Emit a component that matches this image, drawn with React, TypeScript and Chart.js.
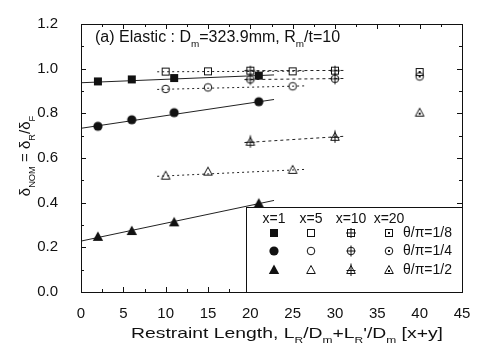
import React, { useEffect, useRef } from "react";
import { Chart, registerables } from "chart.js";
Chart.register(...registerables);

const FONT = '"Liberation Sans", Arial, Helvetica, sans-serif';

// axis ticks
const xTickValues = [0, 5, 10, 15, 20, 25, 30, 35, 40, 45];
const yTickValues = [0, 0.2, 0.4, 0.6, 0.8, 1.0, 1.2];

// x = 1 (filled symbols), restraint length x+y
const x1Lengths = [2, 6, 11, 21];
const x1Square = [0.943, 0.952, 0.958, 0.969];
const x1Circle = [0.742, 0.771, 0.803, 0.852];
const x1Triangle = [0.247, 0.273, 0.312, 0.396];

// x = 5 (open symbols)
const x5Lengths = [10, 15, 25];
const x5Square = [0.987, 0.988, 0.988];
const x5Circle = [0.909, 0.916, 0.921];
const x5Triangle = [0.521, 0.539, 0.547];

// x = 10 (crossed symbols)
const x10Lengths = [20, 30];
const x10Square = [0.991, 0.991];
const x10Circle = [0.952, 0.955];
const x10Triangle = [0.673, 0.695];

// x = 20 (dotted symbols)
const x20Lengths = [40];
const x20Square = [0.985];
const x20Circle = [0.965];
const x20Triangle = [0.803];

// trend lines: [start, end]
const fitX1Range = [0, 22.8];
const fitX1Square = [0.937, 0.972];
const fitX1Circle = [0.733, 0.862];
const fitX1Triangle = [0.228, 0.41];
const fitX5Range = [9, 26.5];
const fitX5Square = [0.986, 0.989];
const fitX5Circle = [0.907, 0.923];
const fitX5Triangle = [0.518, 0.549];
const fitX10Range = [19.3, 31];
const fitX10Square = [0.991, 0.992];
const fitX10Circle = [0.951, 0.956];
const fitX10Triangle = [0.669, 0.697];

const legendHeaders = ["x=1", "x=5", "x=10", "x=20"];
const legendRows = ["θ/π=1/8", "θ/π=1/4", "θ/π=1/2"];

type Shape = "square" | "circle" | "triangle";
type Kind = "filled" | "open" | "cross" | "dot";

function makeMarker(shape: Shape, kind: Kind): HTMLCanvasElement {
  const c = document.createElement("canvas");
  c.width = 16;
  c.height = 16;
  const g = c.getContext("2d")!;
  g.strokeStyle = "#111";
  g.fillStyle = "#111";
  g.lineWidth = 1;
  const m = 8;
  const line = (x1: number, y1: number, x2: number, y2: number) => {
    g.beginPath();
    g.moveTo(x1, y1);
    g.lineTo(x2, y2);
    g.stroke();
  };
  if (shape === "square") {
    if (kind === "filled") {
      g.fillRect(4, 4, 8, 8);
    } else {
      g.strokeRect(4.5, 4.5, 7, 7);
      if (kind === "cross") {
        line(8, 3, 8, 13);
        line(3, 8, 13, 8);
      }
      if (kind === "dot") g.fillRect(7, 7, 2, 2);
    }
  } else if (shape === "circle") {
    g.beginPath();
    if (kind === "filled") {
      g.arc(m, m, 4.6, 0, Math.PI * 2);
      g.fill();
    } else {
      g.arc(m, m, 3.8, 0, Math.PI * 2);
      g.stroke();
      if (kind === "cross") {
        line(8, 2.5, 8, 13.5);
        line(3.5, 8, 12.5, 8);
      }
      if (kind === "dot") g.fillRect(7, 7, 2, 2);
    }
  } else {
    if (kind === "filled") {
      g.beginPath();
      g.moveTo(8, 2.5);
      g.lineTo(13.2, 12);
      g.lineTo(2.8, 12);
      g.closePath();
      g.fill();
    } else {
      g.beginPath();
      g.moveTo(8, 3.5);
      g.lineTo(12.3, 11.5);
      g.lineTo(3.7, 11.5);
      g.closePath();
      g.stroke();
      if (kind === "cross") {
        line(8, 1.5, 8, 14);
        line(3.5, 8.5, 12.5, 8.5);
      }
      if (kind === "dot") g.fillRect(7, 8, 2, 2);
    }
  }
  return c;
}

type Part = { t: string; sub?: boolean };

function partFont(size: number, sub?: boolean) {
  return `${sub ? size * 0.62 : size}px ${FONT}`;
}
function richWidth(ctx: CanvasRenderingContext2D, parts: Part[], size: number) {
  let w = 0;
  for (const p of parts) {
    ctx.font = partFont(size, p.sub);
    w += ctx.measureText(p.t).width;
  }
  return w;
}
function drawRich(
  ctx: CanvasRenderingContext2D,
  parts: Part[],
  x: number,
  y: number,
  size: number,
  align: "left" | "center",
  targetWidth?: number
) {
  const w = richWidth(ctx, parts, size);
  const sx = targetWidth ? targetWidth / w : 1;
  ctx.save();
  ctx.translate(x, y);
  ctx.scale(sx, 1);
  let cx = align === "center" ? -w / 2 : 0;
  ctx.textAlign = "left";
  ctx.textBaseline = "alphabetic";
  for (const p of parts) {
    ctx.font = partFont(size, p.sub);
    ctx.fillText(p.t, cx, p.sub ? size * 0.3 : 0);
    cx += ctx.measureText(p.t).width;
  }
  ctx.restore();
}

const titleParts: Part[] = [
  { t: "(a) Elastic : D" },
  { t: "m", sub: true },
  { t: "=323.9mm, R" },
  { t: "m", sub: true },
  { t: "/t=10" },
];
const xTitleParts: Part[] = [
  { t: "Restraint Length, L" },
  { t: "R", sub: true },
  { t: "/D" },
  { t: "m", sub: true },
  { t: "+L" },
  { t: "R", sub: true },
  { t: "'/D" },
  { t: "m", sub: true },
  { t: " [x+y]" },
];
const yTitleParts: Part[] = [
  { t: "δ" },
  { t: "NOM", sub: true },
  { t: " = δ" },
  { t: "R", sub: true },
  { t: "/δ" },
  { t: "F", sub: true },
];

export default function App() {
  const ref = useRef<HTMLCanvasElement | null>(null);
  useEffect(() => {
    if (!ref.current) return;
    const shapes: Shape[] = ["square", "circle", "triangle"];
    const kinds: Kind[] = ["filled", "open", "cross", "dot"];
    const markers: Record<string, HTMLCanvasElement> = {};
    for (const s of shapes) for (const k of kinds) markers[s + k] = makeMarker(s, k);

    const pts = (xs: number[], ys: number[]) => xs.map((x, i) => ({ x, y: ys[i] }));

    const fit = (range: number[], ys: number[], dash: number[]) => ({
      type: "line" as const,
      data: pts(range, ys),
      borderColor: "#222",
      borderWidth: 1,
      borderDash: dash,
      pointRadius: 0,
      showLine: true,
      fill: false,
      order: 2,
    });
    const scatter = (xs: number[], ys: number[], marker: HTMLCanvasElement) => ({
      type: "scatter" as const,
      data: pts(xs, ys),
      pointStyle: marker,
      pointRadius: 6,
      showLine: false,
      order: 1,
    });

    const framePlugin = {
      id: "frameAndText",
      afterDraw(chart: any) {
        const ctx: CanvasRenderingContext2D = chart.ctx;
        const a = chart.chartArea;
        const xs = chart.scales.x;
        const ys = chart.scales.y;
        ctx.save();
        ctx.strokeStyle = "#111";
        ctx.lineWidth = 1;
        ctx.strokeRect(Math.round(a.left) + 0.5, Math.round(a.top) + 0.5, Math.round(a.right - a.left), Math.round(a.bottom - a.top));
        ctx.beginPath();
        for (let v = 0; v <= 45.001; v += 2.5) {
          const px = Math.round(xs.getPixelForValue(v)) + 0.5;
          const major = Math.abs(v / 5 - Math.round(v / 5)) < 1e-6;
          const len = major ? 5 : 3;
          ctx.moveTo(px, a.bottom);
          ctx.lineTo(px, a.bottom - len);
          ctx.moveTo(px, a.top);
          ctx.lineTo(px, a.top + len);
        }
        for (let v = 0; v <= 1.2001; v += 0.1) {
          const py = Math.round(ys.getPixelForValue(v)) + 0.5;
          const major = Math.abs(v / 0.2 - Math.round(v / 0.2)) < 1e-6;
          const len = major ? 5 : 3;
          ctx.moveTo(a.left, py);
          ctx.lineTo(a.left + len, py);
          ctx.moveTo(a.right, py);
          ctx.lineTo(a.right - len, py);
        }
        ctx.stroke();

        ctx.fillStyle = "#111";
        // title inside plot
        drawRich(ctx, titleParts, 95, 42, 16, "left");
        // x-axis title
        drawRich(ctx, xTitleParts, 287, 338, 15, "center", 312);
        // y-axis title
        ctx.save();
        ctx.translate(30, 156);
        ctx.rotate(-Math.PI / 2);
        drawRich(ctx, yTitleParts, 0, 0, 15, "center");
        ctx.restore();

        // legend box
        const lx = 246, ly = 207, lr = Math.round(a.right), lb = Math.round(a.bottom);
        ctx.fillStyle = "#fff";
        ctx.fillRect(lx, ly, lr - lx, lb - ly);
        ctx.strokeRect(lx + 0.5, ly + 0.5, lr - lx, lb - ly);
        ctx.fillStyle = "#111";
        ctx.font = `14px ${FONT}`;
        ctx.textBaseline = "middle";
        ctx.textAlign = "center";
        const colX = [274, 311, 351, 389];
        legendHeaders.forEach((h, i) => ctx.fillText(h, colX[i], 219));
        const rowY = [233, 251, 270];
        ctx.textAlign = "left";
        legendRows.forEach((r, j) => {
          kinds.forEach((k, i) => {
            const m = markers[shapes[j] + k];
            ctx.drawImage(m, colX[i] - 8, rowY[j] - 8);
          });
          ctx.fillText(r, 403, rowY[j]);
        });
        ctx.restore();
      },
    };

    const chart = new Chart(ref.current, {
      type: "scatter",
      data: {
        datasets: [
          fit(fitX1Range, fitX1Square, []),
          fit(fitX1Range, fitX1Circle, []),
          fit(fitX1Range, fitX1Triangle, []),
          fit(fitX5Range, fitX5Square, [2, 3]),
          fit(fitX5Range, fitX5Circle, [2, 3]),
          fit(fitX5Range, fitX5Triangle, [2, 3]),
          fit(fitX10Range, fitX10Square, [3, 3]),
          fit(fitX10Range, fitX10Circle, [3, 3]),
          fit(fitX10Range, fitX10Triangle, [3, 3]),
          scatter(x1Lengths, x1Square, markers.squarefilled),
          scatter(x1Lengths, x1Circle, markers.circlefilled),
          scatter(x1Lengths, x1Triangle, markers.trianglefilled),
          scatter(x5Lengths, x5Square, markers.squareopen),
          scatter(x5Lengths, x5Circle, markers.circleopen),
          scatter(x5Lengths, x5Triangle, markers.triangleopen),
          scatter(x10Lengths, x10Square, markers.squarecross),
          scatter(x10Lengths, x10Circle, markers.circlecross),
          scatter(x10Lengths, x10Triangle, markers.trianglecross),
          scatter(x20Lengths, x20Square, markers.squaredot),
          scatter(x20Lengths, x20Circle, markers.circledot),
          scatter(x20Lengths, x20Triangle, markers.triangledot),
        ] as any,
      },
      options: {
        responsive: false,
        animation: false,
        events: [],
        layout: { padding: { left: 0, top: 15, right: 18, bottom: 0 } },
        plugins: { legend: { display: false }, tooltip: { enabled: false } },
        scales: {
          x: {
            type: "linear",
            min: 0,
            max: 45,
            afterBuildTicks: (s: any) => {
              s.ticks = xTickValues.map((v) => ({ value: v }));
            },
            afterFit: (s: any) => {
              s.height = 64;
            },
            grid: { display: false },
            border: { display: false },
            ticks: {
              padding: 5,
              color: "#111",
              font: { family: FONT, size: 15 },
              maxRotation: 0,
              callback: (v: any) => String(v),
            },
          },
          y: {
            type: "linear",
            min: 0,
            max: 1.2,
            afterBuildTicks: (s: any) => {
              s.ticks = yTickValues.map((v) => ({ value: v }));
            },
            afterFit: (s: any) => {
              s.width = 81;
            },
            grid: { display: false },
            border: { display: false },
            ticks: {
              padding: 15,
              color: "#111",
              font: { family: FONT, size: 15 },
              callback: (v: any) => Number(v).toFixed(1),
            },
          },
        },
      },
      plugins: [framePlugin],
    });
    return () => chart.destroy();
  }, []);
  return (
    <div style={{ position: "absolute", left: 0, top: 0, width: 480, height: 356 }}>
      <canvas ref={ref} width={480} height={356} />
    </div>
  );
}
